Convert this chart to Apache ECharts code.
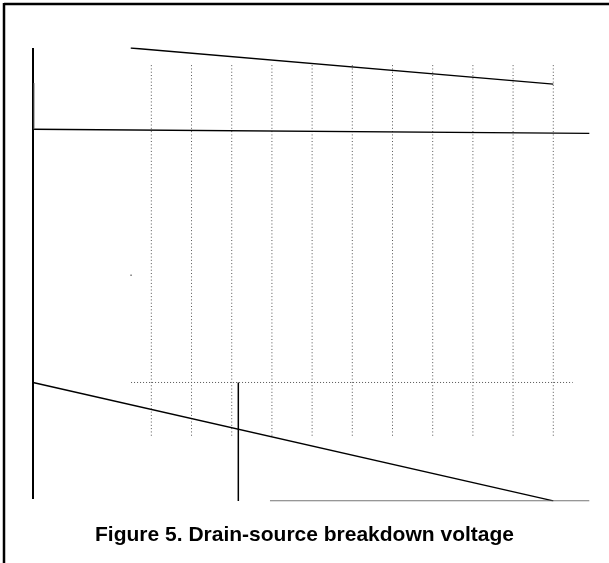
<!DOCTYPE html>
<html>
<head>
<meta charset="utf-8">
<script src="https://cdn.jsdelivr.net/npm/echarts@6/dist/echarts.min.js"></script>
<style>
  html, body { margin: 0; padding: 0; background: #fff; }
  #chart { width: 609px; height: 563px; }
</style>
</head>
<body>
<div id="chart"></div>
<script>
// x: temperature (°C), y: arbitrary voltage scale
const xRange = [-123.6, 222.4];
const yRange = [-17.5, 104.1];
// dotted grid: vertical lines at these temperatures, spanning 0..100
const gridTemps = [-50, -25, 0, 25, 50, 75, 100, 125, 150, 175, 200];
const gridSpan = [0, 100];

const topCurve = [[-62.8, 104.1], [200, 94.4]];
const flatCurve = [[-123.6, 82.3], [222.4, 81.2]];
const leftAxisLine = [[-123.6, 104.1], [-123.6, -17.0]];
const shortStub = [[-123.0, 94.7], [-123.0, 82.3]];
const dottedRef = [[-62.6, 14.3], [212.1, 14.3]];
const lowCurve = [[-123.6, 14.3], [200, -17.5]];
const markerLine = [[4.1, 14.3], [4.1, -17.5]];
const baseLine = [[23.8, -17.5], [222.4, -17.5]];
const strayDot = [[-62.6, 43.1]];

const chart = echarts.init(document.getElementById('chart'), null, { renderer: 'canvas' });

function seg(data, color, width, type) {
  return {
    type: 'line',
    data: data,
    symbol: 'none',
    silent: true,
    lineStyle: { color: color, width: width, type: type || 'solid' },
  };
}

// one dotted segment per grid temperature
const gridSeries = gridTemps.map((t) =>
  seg([[t, gridSpan[0]], [t, gridSpan[1]]], '#555', 1, [1, 2.3]));

const option = {
  animation: false,
  backgroundColor: '#fff',
  title: {
    text: 'Figure 5. Drain-source breakdown voltage',
    left: 'center',
    top: 520,
    textStyle: {
      fontFamily: 'Liberation Sans, Arial, sans-serif',
      fontWeight: 'bold',
      fontSize: 21,
      color: '#000',
    },
  },
  grid: {
    left: 33,
    right: 19.7,
    top: 48.05,
    bottom: 62.1,
    outerBoundsMode: 'none',
  },
  xAxis: {
    type: 'value',
    min: xRange[0],
    max: xRange[1],
    axisLine: { show: false },
    axisTick: { show: false },
    axisLabel: { show: false },
    splitLine: { show: false },
  },
  yAxis: {
    type: 'value',
    min: yRange[0],
    max: yRange[1],
    axisLine: { show: false },
    axisTick: { show: false },
    axisLabel: { show: false },
    splitLine: { show: false },
  },
  graphic: [
    { type: 'line', shape: { x1: 4, y1: 4, x2: 609, y2: 4 }, style: { stroke: '#000', lineWidth: 2.5 } },
    { type: 'line', shape: { x1: 4, y1: 3, x2: 4, y2: 563 }, style: { stroke: '#000', lineWidth: 2.5 } },
  ],
  series: gridSeries.concat([
    seg(topCurve, '#000', 1.4),
    seg(flatCurve, '#000', 1.4),
    seg(leftAxisLine, '#000', 2),
    seg(shortStub, '#666', 1),
    seg(dottedRef, '#555', 1, [1, 2]),
    seg(lowCurve, '#000', 1.4),
    seg(markerLine, '#000', 1.5),
    seg(baseLine, '#555', 1),
    {
      type: 'scatter',
      data: strayDot,
      silent: true,
      symbol: 'rect',
      symbolSize: 1.5,
      itemStyle: { color: '#555' },
    },
  ]),
};

chart.setOption(option);
</script>
</body>
</html>
